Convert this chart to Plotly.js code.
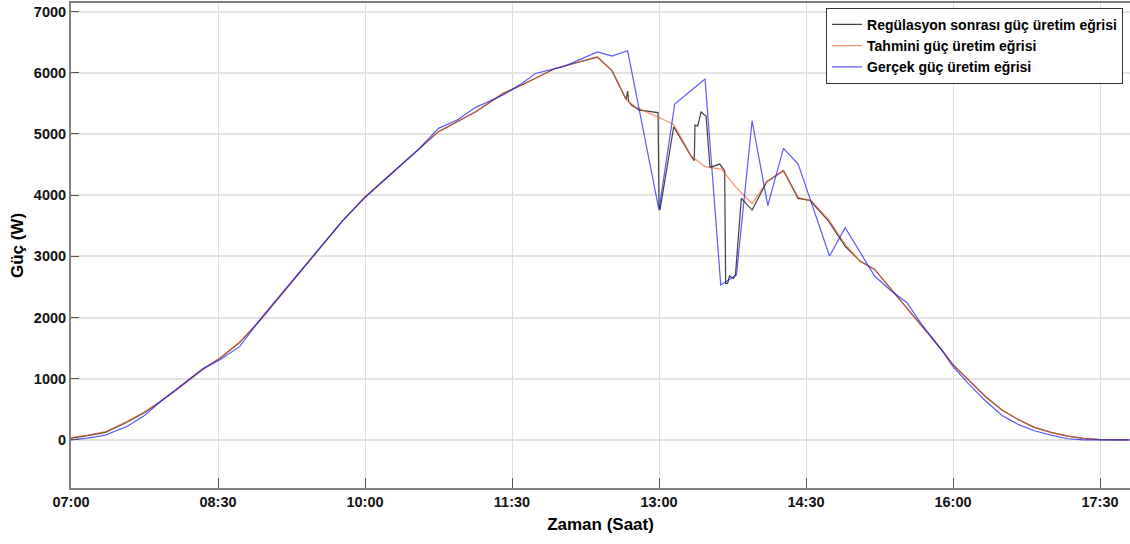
<!DOCTYPE html>
<html>
<head>
<meta charset="utf-8">
<script src="https://cdn.plot.ly/plotly-3.0.1.min.js"></script>
<style>html,body{margin:0;padding:0;background:#fff;}#chart{width:1130px;height:544px;}</style>
</head>
<body>
<div id="chart"></div>
<script>
// Time in hours (decimal), power in W
const seriesNames = ["Regülasyon sonrası güç üretim eğrisi", "Tahmini güç üretim eğrisi", "Gerçek güç üretim eğrisi"];

const regTime = [7.00, 7.17, 7.35, 7.57, 7.75, 7.91, 8.10, 8.35, 8.52, 8.72, 8.96, 9.27, 9.54, 9.77, 10.00, 10.30, 10.55, 10.75, 11.13, 11.41, 11.60, 11.94, 12.37, 12.52, 12.665, 12.68, 12.69, 12.72, 12.77, 12.80, 12.99, 13.00, 13.01, 13.08, 13.15, 13.33, 13.36, 13.367, 13.395, 13.43, 13.463, 13.48, 13.52, 13.62, 13.67, 13.68, 13.70, 13.72, 13.76, 13.78, 13.84, 13.95, 14.10, 14.27, 14.42, 14.54, 14.73, 14.90, 15.05, 15.20, 15.37, 15.54, 15.71, 15.88, 16.00, 16.17, 16.33, 16.50, 16.67, 16.83, 17.00, 17.17, 17.33, 17.50, 17.80];
const regPower = [30, 70, 125, 290, 450, 625, 850, 1160, 1335, 1590, 2010, 2615, 3140, 3580, 3970, 4400, 4755, 5038, 5364, 5663, 5800, 6070, 6255, 6035, 5560, 5700, 5530, 5470, 5420, 5390, 5350, 3840, 3760, 4465, 5118, 4628, 4563, 5145, 5130, 5363, 5309, 5300, 4454, 4508, 4400, 2559, 2560, 2680, 2640, 2700, 3947, 3757, 4220, 4400, 3948, 3915, 3575, 3165, 2923, 2787, 2460, 2145, 1808, 1481, 1230, 960, 710, 490, 330, 205, 125, 62, 25, 6, 0];

const estTime = [7.00, 7.17, 7.35, 7.57, 7.75, 7.91, 8.10, 8.35, 8.52, 8.72, 8.96, 9.27, 9.54, 9.77, 10.00, 10.30, 10.55, 10.75, 11.13, 11.41, 11.60, 11.94, 12.37, 12.52, 12.67, 12.77, 13.00, 13.15, 13.33, 13.47, 13.64, 13.78, 13.95, 14.10, 14.27, 14.42, 14.56, 14.73, 14.90, 15.05, 15.20, 15.37, 15.54, 15.71, 15.88, 16.00, 16.17, 16.33, 16.50, 16.67, 16.83, 17.00, 17.17, 17.33, 17.50, 17.80];
const estPower = [40, 80, 135, 300, 460, 625, 850, 1160, 1340, 1600, 2015, 2615, 3140, 3580, 3970, 4400, 4755, 5038, 5364, 5663, 5800, 6070, 6261, 6040, 5554, 5434, 5270, 5156, 4639, 4465, 4421, 4138, 3860, 4220, 4400, 3967, 3902, 3603, 3195, 2923, 2787, 2460, 2145, 1808, 1481, 1230, 960, 710, 490, 330, 205, 125, 62, 25, 6, 0];

const actTime = [7.00, 7.17, 7.35, 7.57, 7.75, 7.91, 8.10, 8.35, 8.52, 8.72, 8.96, 9.27, 9.54, 9.77, 10.00, 10.30, 10.55, 10.75, 10.94, 11.13, 11.41, 11.60, 11.74, 12.04, 12.37, 12.52, 12.68, 13.00, 13.16, 13.47, 13.63, 13.79, 13.95, 14.11, 14.27, 14.42, 14.74, 14.90, 15.20, 15.37, 15.53, 15.68, 15.88, 16.00, 16.17, 16.33, 16.50, 16.67, 16.83, 17.00, 17.17, 17.33, 17.50, 17.80];
const actPower = [0, 30, 80, 220, 400, 625, 860, 1170, 1310, 1525, 2030, 2620, 3150, 3580, 3960, 4400, 4755, 5092, 5228, 5435, 5636, 5826, 5989, 6109, 6342, 6272, 6359, 3757, 5488, 5897, 2532, 2696, 5216, 3828, 4764, 4508, 3006, 3467, 2678, 2433, 2243, 1890, 1481, 1200, 900, 640, 400, 250, 150, 80, 20, 0, 0, 0];

const tickHours = [7, 8.5, 10, 11.5, 13, 14.5, 16, 17.5];
const tickLabels = ["07:00", "08:30", "10:00", "11:30", "13:00", "14:30", "16:00", "17:30"];
const yTicks = [0, 1000, 2000, 3000, 4000, 5000, 6000, 7000];

const fontFam = "'Liberation Sans', Arial, Helvetica, sans-serif";

const traces = [
  {x: regTime, y: regPower, name: seriesNames[0], type: "scatter", mode: "lines",
   line: {color: "rgba(0,0,0,0.75)", width: 1.2}},
  {x: estTime, y: estPower, name: seriesNames[1], type: "scatter", mode: "lines",
   line: {color: "rgba(240,100,45,0.7)", width: 1.2}},
  {x: actTime, y: actPower, name: seriesNames[2], type: "scatter", mode: "lines",
   line: {color: "rgba(20,20,255,0.7)", width: 1.2}}
];

const layout = {
  width: 1130, height: 544,
  margin: {l: 71, r: 0, t: 3, b: 56},
  paper_bgcolor: "#ffffff", plot_bgcolor: "#ffffff",
  font: {family: fontFam, color: "#000"},
  showlegend: true,
  legend: {
    x: 0.713, y: 0.99, xanchor: "left", yanchor: "top",
    bgcolor: "#ffffff", bordercolor: "#333", borderwidth: 1,
    font: {family: fontFam, size: 14, color: "#000", weight: "bold"},
    tracegroupgap: 0
  },
  xaxis: {
    range: [7, 17.806],
    tickmode: "array", tickvals: tickHours, ticktext: tickLabels,
    ticks: "inside", ticklen: 10, tickcolor: "#555", tickwidth: 1,
    showgrid: true, gridcolor: "#dddddd", gridwidth: 1,
    zeroline: false,
    showline: true, linecolor: "#808080", linewidth: 2, mirror: true,
    tickfont: {family: fontFam, size: 14.5, color: "#111", weight: "bold"},
    title: {text: "Zaman (Saat)", font: {family: fontFam, size: 17, color: "#000", weight: "bold"}, standoff: 9}
  },
  yaxis: {
    range: [-785, 7140],
    tickmode: "array", tickvals: yTicks,
    ticks: "inside", ticklen: 8, tickcolor: "#555", tickwidth: 1,
    showgrid: true, gridcolor: "#e3e3e3", gridwidth: 1.5,
    zeroline: false,
    showline: true, linecolor: "#808080", linewidth: 2, mirror: true,
    tickfont: {family: fontFam, size: 14.5, color: "#111", weight: "bold"},
    title: {text: "Güç (W)", font: {family: fontFam, size: 17, color: "#000", weight: "bold"}, standoff: 6}
  }
};

Plotly.newPlot("chart", traces, layout, {displayModeBar: false, responsive: false});
</script>
</body>
</html>
